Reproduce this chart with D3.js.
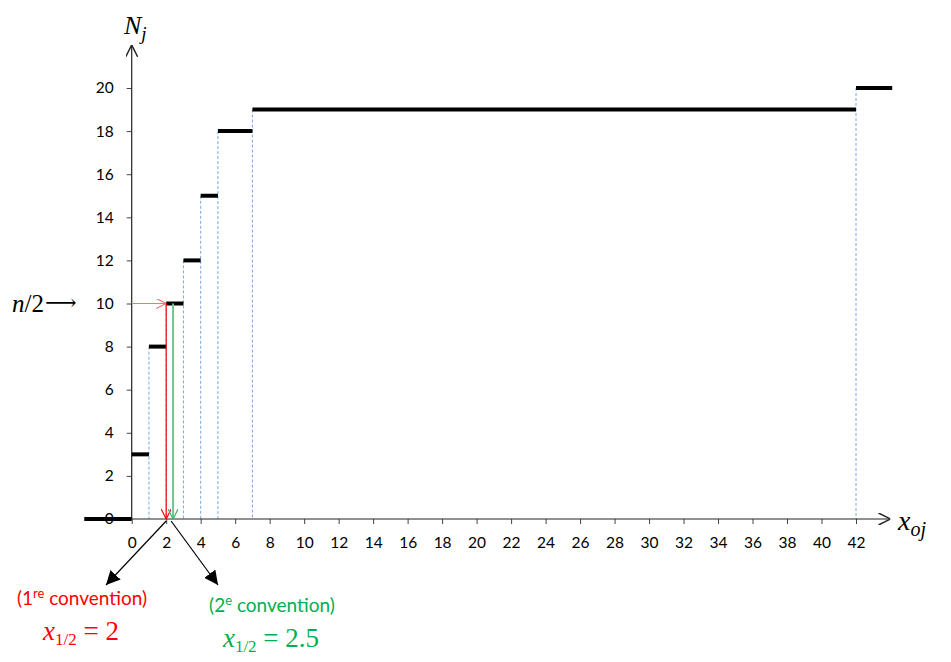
<!DOCTYPE html>
<html><head><meta charset="utf-8">
<script src="https://cdn.jsdelivr.net/npm/d3@7"></script>
<style>body{margin:0;background:#fff}svg{display:block}</style>
</head><body>
<script>
// Data
const stepStart = [-2.75, 0, 1, 2, 3, 4, 5, 7, 42];
const stepEnd   = [0, 1, 2, 3, 4, 5, 7, 42, 44.1];
const cumFreq   = [0, 3, 8, 10, 12, 15, 18, 19, 20];
const xTickValues = [0,2,4,6,8,10,12,14,16,18,20,22,24,26,28,30,32,34,36,38,40,42];
const yTickValues = [0,2,4,6,8,10,12,14,16,18,20];
const halfN = 10;
const median1 = 2;     // 1re convention
const median2 = 2.4;   // 2e convention (drawn position)
const median1Label = "2";
const median2Label = "2.5";

const W = 951, H = 662;
const svg = d3.select("body").append("svg").attr("width", W).attr("height", H);
const x = d3.scaleLinear().domain([0, 42]).range([131.7, 856]);
const y = d3.scaleLinear().domain([0, 20]).range([519, 88]);
const sans = "Lato, 'Open Sans', sans-serif";
const serif = "'Liberation Serif', 'DejaVu Serif', serif";

// markers
const defs = svg.append("defs");
function openMarker(id, color, size) {
  defs.append("marker").attr("id", id).attr("viewBox", "0 0 10 10").attr("refX", 10).attr("refY", 5)
    .attr("markerWidth", size).attr("markerHeight", size).attr("markerUnits", "userSpaceOnUse").attr("orient", "auto")
    .append("path").attr("d", "M0,0 L10,5 L0,10").attr("fill", "none").attr("stroke", color).attr("stroke-width", 1.2);
}
openMarker("axArrow", "#222", 12);
openMarker("redArrow", "#ff0000", 10);
openMarker("redArrowL", "#ff7070", 10);
openMarker("greenArrow", "#3cb371", 10);
defs.append("marker").attr("id", "blk").attr("viewBox", "0 0 10 10").attr("refX", 10).attr("refY", 5)
  .attr("markerWidth", 14).attr("markerHeight", 14).attr("markerUnits", "userSpaceOnUse").attr("orient", "auto")
  .append("path").attr("d", "M0,0 L10,5 L0,10 Z").attr("fill", "#000");

// dashed verticals
const dashIdx = d3.range(2, stepStart.length);
svg.append("g").selectAll("line").data(dashIdx).join("line")
  .attr("x1", i => x(stepStart[i])).attr("x2", i => x(stepStart[i]))
  .attr("y1", i => y(cumFreq[i])).attr("y2", y(0))
  .attr("stroke", "#7fa7d8").attr("stroke-width", 1).attr("stroke-dasharray", "3,2");

// axes
const xAxis = d3.axisBottom(x).tickValues(xTickValues).tickSize(5).tickPadding(13).tickFormat(d3.format("d"));
const gx = svg.append("g").attr("transform", `translate(0,${y(0)})`).call(xAxis);
gx.select(".domain").remove();
gx.selectAll("line").attr("stroke", "#444");
gx.selectAll("text").attr("font-family", sans).attr("font-size", 15.5).attr("fill", "#000");
svg.append("line").attr("x1", x(0)).attr("x2", x(44)).attr("y1", y(0)).attr("y2", y(0))
  .attr("stroke", "#222").attr("stroke-width", 1).attr("marker-end", "url(#axArrow)");

const yAxis = d3.axisLeft(y).tickValues(yTickValues).tickSize(5).tickPadding(13).tickFormat(d3.format("d"));
const gy = svg.append("g").attr("transform", `translate(${x(0)},0)`).call(yAxis);
gy.select(".domain").remove();
gy.selectAll("line").attr("stroke", "#444");
gy.selectAll("text").attr("font-family", sans).attr("font-size", 15.5).attr("fill", "#000");
svg.append("line").attr("x1", x(0)).attr("x2", x(0)).attr("y1", y(0)).attr("y2", y(22))
  .attr("stroke", "#222").attr("stroke-width", 1.2).attr("marker-end", "url(#axArrow)");

// step segments
svg.append("g").selectAll("line").data(cumFreq).join("line")
  .attr("x1", (d, i) => x(stepStart[i])).attr("x2", (d, i) => x(stepEnd[i]))
  .attr("y1", d => y(d)).attr("y2", d => y(d))
  .attr("stroke", "#000").attr("stroke-width", 4);

// n/2 arrow (red horizontal)
svg.append("line").attr("x1", x(0)).attr("x2", x(median1)).attr("y1", y(halfN)).attr("y2", y(halfN))
  .attr("stroke", "#ff7070").attr("stroke-width", 1).attr("marker-end", "url(#redArrowL)");
// red vertical
svg.append("line").attr("x1", x(median1)).attr("x2", x(median1)).attr("y1", y(halfN)).attr("y2", y(0))
  .attr("stroke", "#ff0000").attr("stroke-width", 1.2).attr("marker-end", "url(#redArrow)");
// green vertical
svg.append("line").attr("x1", x(median2)).attr("x2", x(median2)).attr("y1", y(halfN)).attr("y2", y(0))
  .attr("stroke", "#66c98f").attr("stroke-width", 2).attr("marker-end", "url(#greenArrow)");

// black pointer arrows
svg.append("line").attr("x1", x(median1)).attr("y1", y(0) + 2).attr("x2", 106).attr("y2", 585)
  .attr("stroke", "#000").attr("stroke-width", 1.2).attr("marker-end", "url(#blk)");
svg.append("line").attr("x1", x(median2) - 2).attr("y1", y(0) + 2).attr("x2", 218).attr("y2", 585)
  .attr("stroke", "#000").attr("stroke-width", 1.2).attr("marker-end", "url(#blk)");

// axis titles
const nj = svg.append("text").attr("x", 124).attr("y", 34).attr("font-family", serif).attr("font-style", "italic").attr("font-size", 26);
nj.append("tspan").text("N");
nj.append("tspan").attr("font-size", 19).attr("dy", 6).text("j");

const xo = svg.append("text").attr("x", 898).attr("y", 530).attr("font-family", serif).attr("font-style", "italic").attr("font-size", 28);
xo.append("tspan").text("x");
xo.append("tspan").attr("font-size", 20).attr("dy", 6).text("oj");

const n2 = svg.append("text").attr("x", 12).attr("y", 312).attr("font-family", serif).attr("font-size", 25);
n2.append("tspan").attr("font-style", "italic").text("n");
n2.append("tspan").text("/2");
n2.append("tspan").attr("font-size", 22).attr("dx", 1).attr("dy", -2).text("⟶");

// convention labels
function convLabel(cx, cy, num, sup, color) {
  const t = svg.append("text").attr("x", cx).attr("y", cy).attr("text-anchor", "middle")
    .attr("font-family", sans).attr("font-size", 19).attr("fill", color);
  t.append("tspan").text("(" + num);
  t.append("tspan").attr("font-size", 13).attr("dy", -7).text(sup);
  t.append("tspan").attr("dy", 7).text(" convention)");
}
convLabel(82, 605, "1", "re", "#ff0000");
convLabel(272, 612, "2", "e", "#00b050");

function medLabel(cx, cy, val, color) {
  const t = svg.append("text").attr("x", cx).attr("y", cy).attr("text-anchor", "middle")
    .attr("font-family", serif).attr("font-size", 27).attr("fill", color);
  t.append("tspan").attr("font-style", "italic").text("x");
  t.append("tspan").attr("font-size", 17).attr("dy", 5).text("1/2");
  t.append("tspan").attr("dy", -5).text(" = " + val);
}
medLabel(81, 640, median1Label, "#ff0000");
medLabel(271, 647, median2Label, "#00b050");
</script>
</body></html>
